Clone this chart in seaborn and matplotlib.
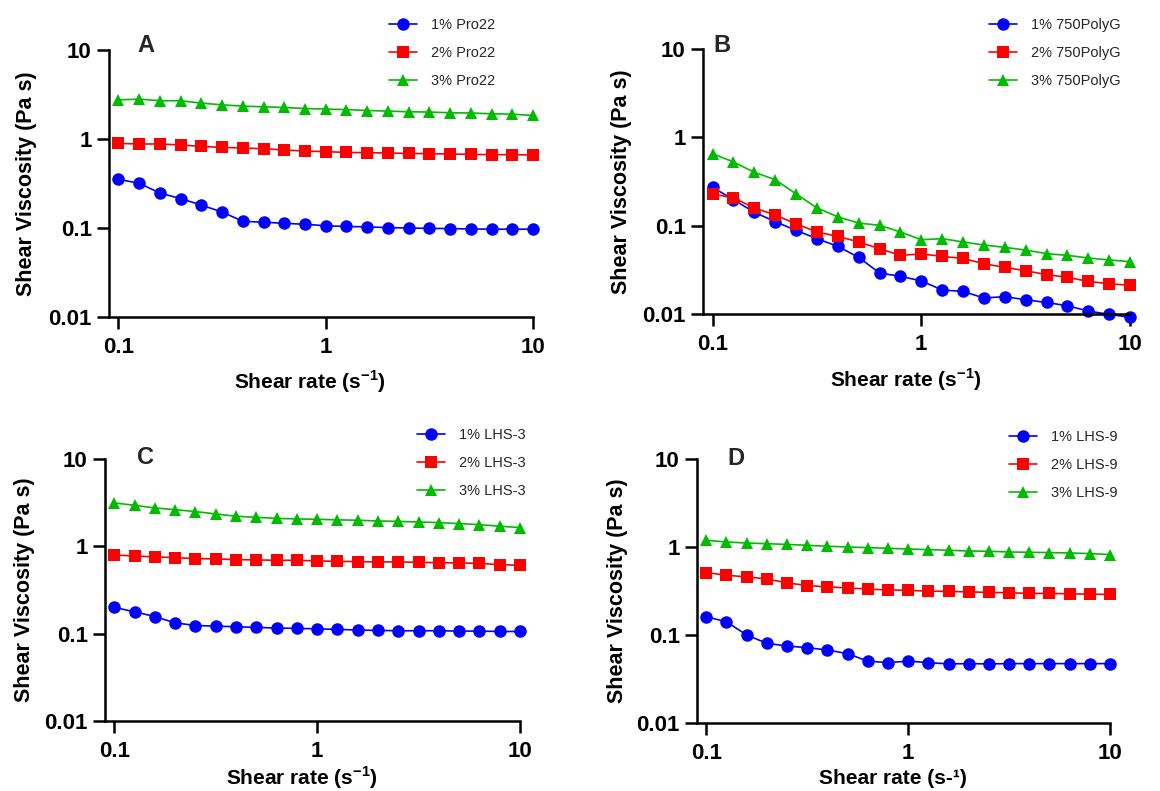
import numpy as np
import pandas as pd
import matplotlib
matplotlib.use("Agg")
import matplotlib.pyplot as plt
import seaborn as sns

# ---------------- data ----------------
shear_rate = [0.1, 0.1259, 0.1585, 0.1995, 0.2512, 0.3162, 0.3981, 0.5012, 0.6310, 0.7943,
              1.0, 1.259, 1.585, 1.995, 2.512, 3.162, 3.981, 5.012, 6.310, 7.943, 10.0]

pro22_1 = [0.352, 0.318, 0.247, 0.214, 0.181, 0.151, 0.119, 0.116, 0.113, 0.110, 0.106,
           0.104, 0.103, 0.101, 0.100, 0.099, 0.0985, 0.0975, 0.097, 0.097, 0.097]
pro22_2 = [0.893, 0.879, 0.879, 0.856, 0.826, 0.805, 0.792, 0.778, 0.752, 0.733, 0.720,
           0.707, 0.701, 0.696, 0.689, 0.684, 0.678, 0.672, 0.667, 0.667, 0.661]
pro22_3 = [2.75, 2.81, 2.69, 2.69, 2.53, 2.42, 2.34, 2.30, 2.26, 2.20, 2.17,
           2.14, 2.09, 2.06, 2.02, 2.01, 1.97, 1.96, 1.92, 1.90, 1.84]

polyg_1 = [0.272, 0.197, 0.142, 0.111, 0.0885, 0.0713, 0.0583, 0.0438, 0.0291, 0.0267, 0.0237,
           0.0187, 0.0180, 0.0152, 0.0157, 0.0145, 0.0135, 0.0124, 0.0108, 0.0099, 0.0092]
polyg_2 = [0.229, 0.206, 0.159, 0.132, 0.105, 0.0849, 0.0757, 0.0654, 0.0549, 0.0461, 0.0479,
           0.0449, 0.0426, 0.0371, 0.0337, 0.0309, 0.0279, 0.0260, 0.0234, 0.0220, 0.0211]
polyg_3 = [0.654, 0.526, 0.402, 0.332, 0.229, 0.159, 0.126, 0.107, 0.101, 0.0849, 0.0693,
           0.0713, 0.0654, 0.0604, 0.0568, 0.0530, 0.0482, 0.0461, 0.0431, 0.0409, 0.0391]

lhs3_1 = [0.200, 0.178, 0.157, 0.133, 0.124, 0.122, 0.120, 0.118, 0.116, 0.115, 0.1135,
          0.112, 0.110, 0.109, 0.108, 0.108, 0.108, 0.107, 0.107, 0.106, 0.106]
lhs3_2 = [0.797, 0.776, 0.756, 0.743, 0.723, 0.718, 0.705, 0.699, 0.692, 0.692, 0.681,
          0.673, 0.668, 0.663, 0.663, 0.656, 0.650, 0.645, 0.639, 0.617, 0.606]
lhs3_3 = [3.14, 2.95, 2.75, 2.63, 2.50, 2.35, 2.21, 2.15, 2.09, 2.06, 2.04,
          2.01, 1.99, 1.95, 1.93, 1.90, 1.87, 1.82, 1.77, 1.70, 1.64]

lhs9_1 = [0.161, 0.1415, 0.100, 0.0805, 0.0750, 0.0718, 0.0676, 0.0614, 0.0504, 0.0486, 0.0504,
          0.0486, 0.0469, 0.0473, 0.0469, 0.0473, 0.0473, 0.0473, 0.0473, 0.0473, 0.0473]
lhs9_2 = [0.513, 0.478, 0.457, 0.434, 0.391, 0.365, 0.352, 0.343, 0.332, 0.326, 0.321,
          0.315, 0.313, 0.309, 0.305, 0.302, 0.297, 0.297, 0.294, 0.291, 0.289]
lhs9_3 = [1.19, 1.14, 1.11, 1.09, 1.07, 1.045, 1.02, 1.00, 0.984, 0.967, 0.949,
          0.934, 0.918, 0.901, 0.894, 0.878, 0.871, 0.864, 0.855, 0.842, 0.820]

panel_letters = ["A", "B", "C", "D"]
series_labels = [
    ["1% Pro22", "2% Pro22", "3% Pro22"],
    ["1% 750PolyG", "2% 750PolyG", "3% 750PolyG"],
    ["1% LHS-3", "2% LHS-3", "3% LHS-3"],
    ["1% LHS-9", "2% LHS-9", "3% LHS-9"],
]
panel_series = [
    [pro22_1, pro22_2, pro22_3],
    [polyg_1, polyg_2, polyg_3],
    [lhs3_1, lhs3_2, lhs3_3],
    [lhs9_1, lhs9_2, lhs9_3],
]
y_ticks = [0.01, 0.1, 1, 10]
y_ticklabels = ["0.01", "0.1", "1", "10"]
x_ticks = [0.1, 1, 10]
x_ticklabels = ["0.1", "1", "10"]
x_labels = [r"Shear rate (s$^{\mathbf{-1}}$)", r"Shear rate (s$^{\mathbf{-1}}$)",
            r"Shear rate (s$^{\mathbf{-1}}$)", "Shear rate (s-\u00b9)"]
y_label = "Shear Viscosity (Pa s)"

# ---------------- style ----------------
sns.set_theme(style="ticks")
plt.rcParams["font.family"] = ["Liberation Sans", "DejaVu Sans"]
plt.rcParams["mathtext.fontset"] = "custom"
plt.rcParams["mathtext.rm"] = "Liberation Sans"
plt.rcParams["mathtext.bf"] = "Liberation Sans:bold"

colors = ["#0000FF", "#FF0000", "#00BB00"]
markers = ["o", "s", "^"]
msizes = [9, 8.5, 9]

W, H = 1160, 791
fig = plt.figure(figsize=(W / 100, H / 100), dpi=100)

def px_axes(left, right, top, bottom):
    return [left / W, 1 - bottom / H, (right - left) / W, (bottom - top) / H]

# axes rectangles in pixels: left(spine), right(x=10), top(y=10), bottom(y=0.01)
rects = [
    px_axes(109, 533, 50, 317),
    px_axes(703, 1130, 49, 314),
    px_axes(105, 520, 459, 721),
    px_axes(697, 1110, 459, 723),
]
letter_pos = [(146, 46), (722, 46), (145, 457), (736, 458)]
legend_pos = [(389, 18), (989, 18), (417, 428), (1009, 430)]
ylabel_x = [27, 622, 25, 617]
xlabel_y = [382, 380, 778, 778]

for i in range(4):
    ax = fig.add_axes(rects[i])
    for j in range(3):
        sns.lineplot(x=shear_rate, y=panel_series[i][j], ax=ax, color=colors[j],
                     marker=markers[j], markersize=msizes[j], markeredgewidth=0,
                     linewidth=1.2, label=series_labels[i][j], clip_on=False)
    ax.set_xscale("log")
    ax.set_yscale("log")
    ax.set_xlim(0.09, 10)
    ax.set_ylim(0.01, 10)
    ax.set_xticks(x_ticks)
    ax.set_xticklabels(x_ticklabels)
    ax.set_yticks(y_ticks)
    ax.set_yticklabels(y_ticklabels)
    ax.minorticks_off()
    for s in ["top", "right"]:
        ax.spines[s].set_visible(False)
    for s in ["left", "bottom"]:
        ax.spines[s].set_linewidth(1.8)
        ax.spines[s].set_color("black")
    ax.tick_params(axis="both", which="major", direction="out", length=8.5, width=1.8,
                   color="black", labelsize=16, pad=4)
    ax.tick_params(axis="x", pad=6)
    for lab in ax.get_xticklabels() + ax.get_yticklabels():
        lab.set_fontweight("bold")
        lab.set_color("black")
    ax.set_xlabel(x_labels[i], fontsize=15, fontweight="bold", color="black")
    ax.set_ylabel(y_label, fontsize=15.5, fontweight="bold", color="black")
    r = rects[i]
    ax_left_px = r[0] * W
    ax_w_px = r[2] * W
    ax_bot_px = (1 - r[1]) * H
    ax_h_px = r[3] * H
    ax.yaxis.set_label_coords((ylabel_x[i] - ax_left_px) / ax_w_px, 0.5)
    ax.yaxis.label.set_verticalalignment("center")
    ax.xaxis.set_label_coords(0.475, -(xlabel_y[i] - ax_bot_px) / ax_h_px)
    ax.xaxis.label.set_verticalalignment("center")
    ax.grid(False)
    ax.set_facecolor("white")

    fig.text(letter_pos[i][0] / W, 1 - letter_pos[i][1] / H, panel_letters[i],
             fontsize=17, fontweight="bold", ha="center", va="center")

    handles, labels = ax.get_legend_handles_labels()
    ax.legend(handles, labels, loc="upper left",
              bbox_to_anchor=(legend_pos[i][0] / W, 1 - legend_pos[i][1] / H),
              bbox_transform=fig.transFigure, frameon=False, fontsize=10.5,
              handlelength=1.9, handletextpad=1.0, labelspacing=0.95,
              borderpad=0, borderaxespad=0)

fig.patch.set_facecolor("white")
fig.savefig("out.png", dpi=100, facecolor="white")
